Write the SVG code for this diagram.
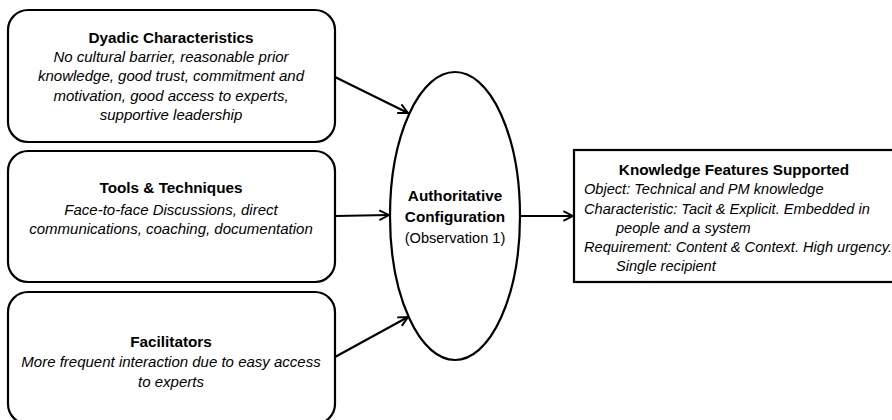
<svg xmlns="http://www.w3.org/2000/svg" width="892" height="420" viewBox="0 0 892 420">
  <style>
    .box { fill: #ffffff; stroke: #000000; stroke-width: 2.2; }
    .t { font-family: "Liberation Sans", Arial, sans-serif; fill: #000000; }
    .h { font-size: 15.3px; font-weight: bold; text-anchor: middle; }
    .i { font-size: 15px; font-style: italic; text-anchor: middle; }
    .il { font-size: 14.6px; font-style: italic; }
    .n { font-size: 14.6px; text-anchor: middle; }
    .edge { stroke: #000000; stroke-width: 2.2; fill: none; marker-end: url(#arrow); }
  </style>
  <defs>
    <marker id="arrow" viewBox="0 0 10 10" refX="9" refY="5" markerWidth="5.5" markerHeight="5.5" orient="auto" markerUnits="strokeWidth">
      <path d="M1,1 L9,5 L1,9" fill="none" stroke="#000000" stroke-width="1.6"/>
    </marker>
  </defs>

  <g id="connectors">
    <line class="edge" x1="335" y1="77" x2="408" y2="113"/>
    <line class="edge" x1="335" y1="216" x2="389" y2="215"/>
    <line class="edge" x1="335" y1="357" x2="408" y2="317"/>
    <line class="edge" x1="520" y1="216" x2="573" y2="216"/>
  </g>

  <g id="dyadic">
    <rect class="box" x="8" y="10" width="327" height="132" rx="20"/>
    <text class="t h" x="171" y="43">Dyadic Characteristics</text>
    <text class="t i" x="171" y="62">No cultural barrier, reasonable prior</text>
    <text class="t i" x="171" y="81">knowledge, good trust, commitment and</text>
    <text class="t i" x="171" y="101">motivation, good access to experts,</text>
    <text class="t i" x="171" y="120">supportive leadership</text>
  </g>

  <g id="tools">
    <rect class="box" x="8" y="151" width="327" height="131" rx="20"/>
    <text class="t h" x="171" y="193">Tools &amp; Techniques</text>
    <text class="t i" x="171" y="215">Face-to-face Discussions, direct</text>
    <text class="t i" x="171" y="234">communications, coaching, documentation</text>
  </g>

  <g id="facilitators">
    <rect class="box" x="8" y="292" width="327" height="132" rx="20"/>
    <text class="t h" x="171" y="347">Facilitators</text>
    <text class="t i" x="171" y="367">More frequent interaction due to easy access</text>
    <text class="t i" x="171" y="387">to experts</text>
  </g>

  <g id="configuration">
    <ellipse class="box" cx="455" cy="216" rx="65" ry="144"/>
    <text class="t h" x="455" y="201">Authoritative</text>
    <text class="t h" x="455" y="222">Configuration</text>
    <text class="t n" x="455" y="243">(Observation 1)</text>
  </g>

  <g id="features">
    <rect class="box" x="574" y="150" width="330" height="132"/>
    <text class="t h" x="734" y="175">Knowledge Features Supported</text>
    <text class="t il" x="584" y="194">Object: Technical and PM knowledge</text>
    <text class="t il" x="584" y="214">Characteristic: Tacit &amp; Explicit. Embedded in</text>
    <text class="t il" x="616" y="233">people and a system</text>
    <text class="t il" x="584" y="252">Requirement: Content &amp; Context. High urgency.</text>
    <text class="t il" x="616" y="271">Single recipient</text>
  </g>
</svg>
